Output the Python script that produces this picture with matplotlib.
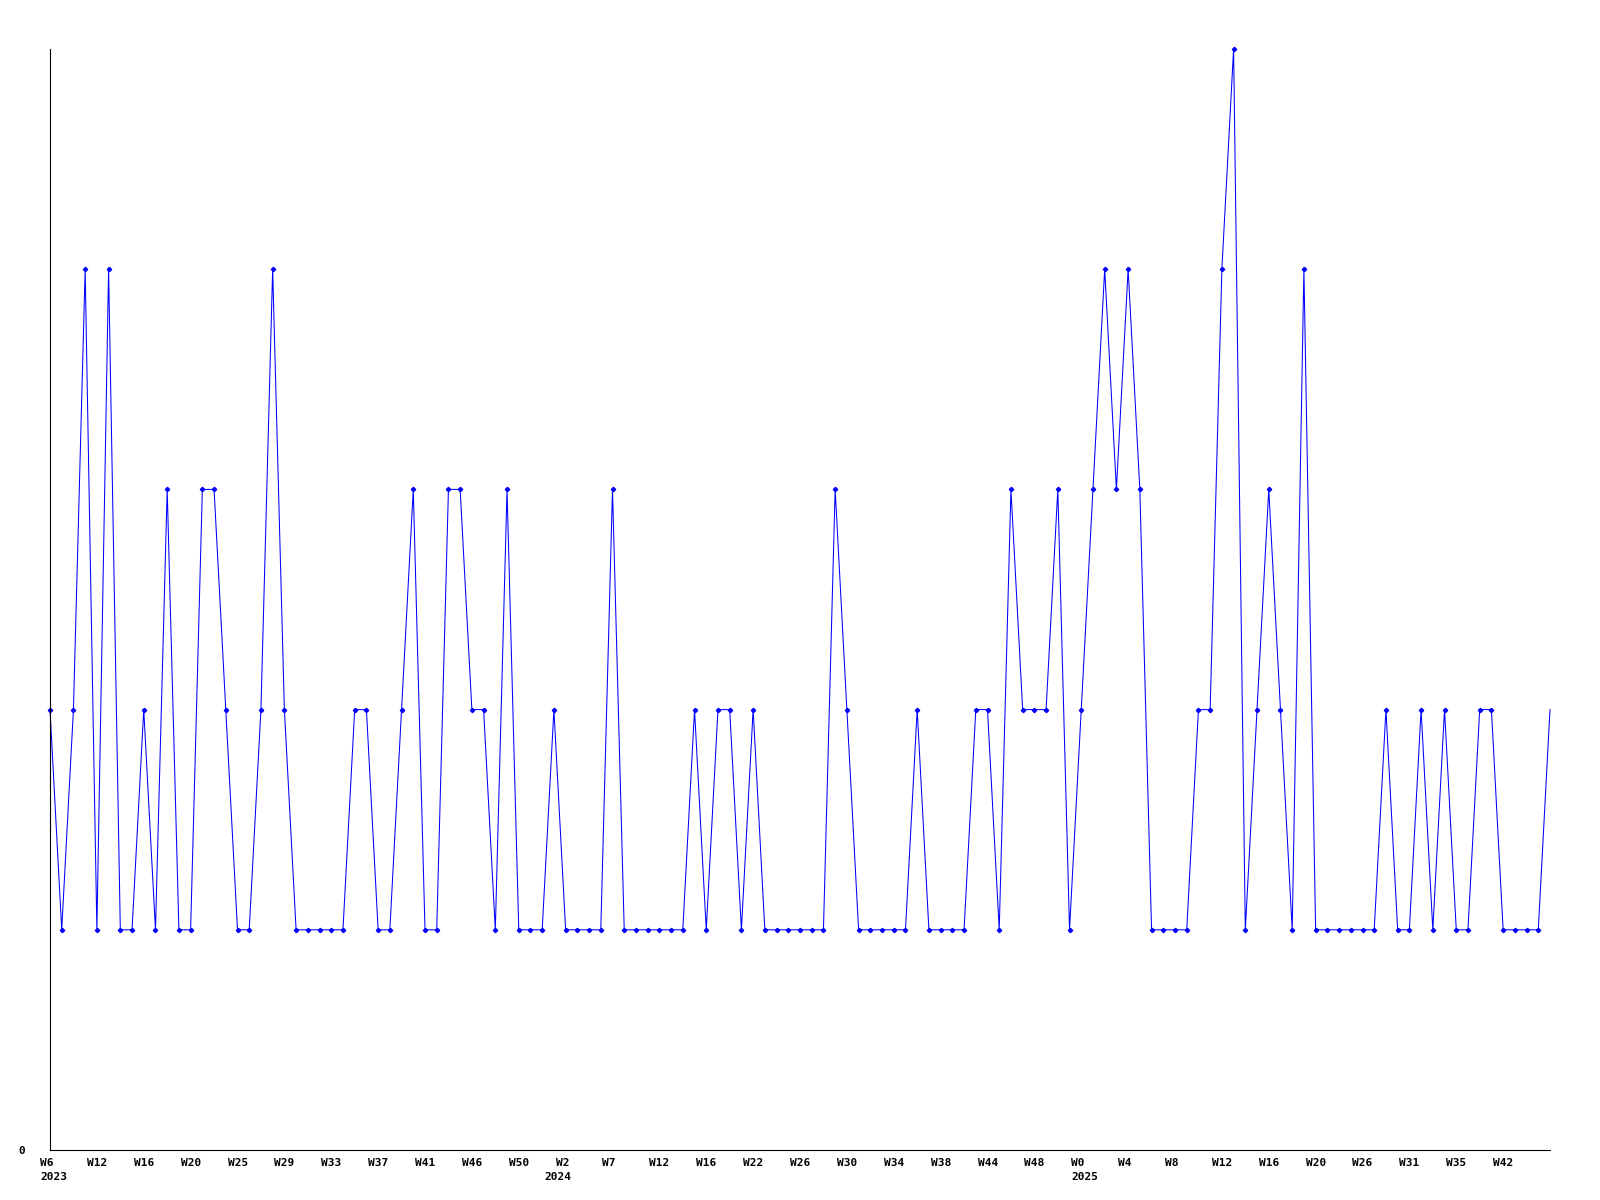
import matplotlib
matplotlib.use("Agg")
import matplotlib.pyplot as plt
from matplotlib.transforms import ScaledTranslation

values = [2, 1, 2, 4, 1, 4, 1, 1, 2, 1, 3, 1, 1, 3, 3, 2, 1, 1, 2, 4,
          2, 1, 1, 1, 1, 1, 2, 2, 1, 1, 2, 3, 1, 1, 3, 3, 2, 2, 1, 3,
          1, 1, 1, 2, 1, 1, 1, 1, 3, 1, 1, 1, 1, 1, 1, 2, 1, 2, 2, 1,
          2, 1, 1, 1, 1, 1, 1, 3, 2, 1, 1, 1, 1, 1, 2, 1, 1, 1, 1, 2,
          2, 1, 3, 2, 2, 2, 3, 1, 2, 3, 4, 3, 4, 3, 1, 1, 1, 1, 2, 2,
          4, 5, 1, 2, 3, 2, 1, 4, 1, 1, 1, 1, 1, 1, 2, 1, 1, 2, 1, 2,
          1, 1, 2, 2, 1, 1, 1, 1, 2]

week_labels = ["W6", "W12", "W16", "W20", "W25", "W29", "W33", "W37", "W41", "W46",
               "W50", "W2", "W7", "W12", "W16", "W22", "W26", "W30", "W34", "W38",
               "W44", "W48", "W0", "W4", "W8", "W12", "W16", "W20", "W26", "W31",
               "W35", "W42"]
label_step = 4

year_labels = ["2023", "2024", "2025"]
year_start_index = [0, 43, 88]

DPI = 100
fig = plt.figure(figsize=(16, 12), dpi=DPI)
ax = fig.add_axes([50 / 1600, 50 / 1200, 1500 / 1600, 1101 / 1200])

x = list(range(len(values)))
ax.plot(x, values, color="#0000ff", linewidth=0.75,
        marker="D", markersize=2.2, markevery=list(range(len(values) - 1)),
        clip_on=False)

ax.set_xlim(0, len(values) - 1)
ax.set_ylim(0, 5)

for side in ("top", "right"):
    ax.spines[side].set_visible(False)
for side in ("left", "bottom"):
    ax.spines[side].set_color("black")
    ax.spines[side].set_linewidth(0.8)

mono = {"family": "DejaVu Sans Mono", "weight": "bold", "size": 8}

tick_pos = [i * label_step for i in range(len(week_labels))]
ax.set_xticks(tick_pos)
ax.set_xticklabels(week_labels, fontdict=mono, ha="left")
ax.tick_params(axis="x", length=0, pad=5.5)
offset = ScaledTranslation(-10 / DPI, 0, fig.dpi_scale_trans)
for lab in ax.xaxis.get_majorticklabels():
    lab.set_transform(lab.get_transform() + offset)

ax.set_yticks([0])
ax.set_yticklabels(["0"], fontdict=mono)
ax.tick_params(axis="y", length=0, pad=18)

year_tr = ax.get_xaxis_transform() + ScaledTranslation(-10 / DPI, -26.5 / DPI, fig.dpi_scale_trans)
for idx, yl in zip(year_start_index, year_labels):
    ax.text(idx, 0, yl, transform=year_tr, ha="left", va="center", **mono)

fig.savefig("out.png", dpi=DPI, facecolor="white")
